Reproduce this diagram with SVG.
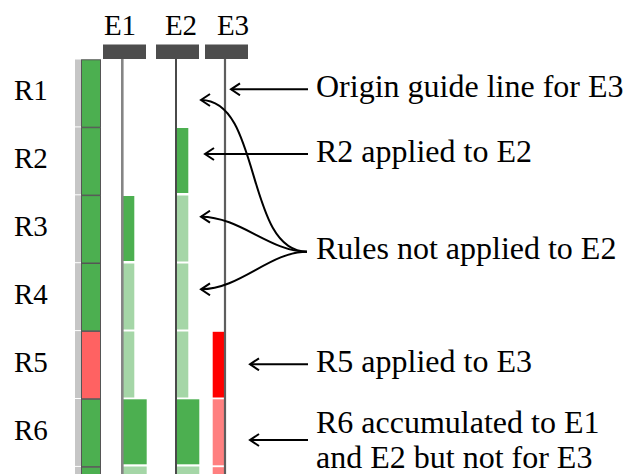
<svg xmlns="http://www.w3.org/2000/svg" width="634" height="474" viewBox="0 0 634 474">
<style>
.hdr{font-size:29px;text-anchor:middle}
.row{font-size:29px}
.lbl{font-size:32px}
.bar{fill:#4d4d4d}
.g{fill:#4caf50}
.lg{fill:#a5d6a7}
.r{fill:#ff0000}
.lr{fill:#ff8080}
.cg{fill:#4caf50;stroke:#555;stroke-width:1}
.cr{fill:#ff6262;stroke:#555;stroke-width:1}
.strip{fill:#c6c6c6}
.arr{fill:none;stroke:#000;stroke-width:2;marker-end:url(#ah)}
</style>
<defs>
<marker id="ah" markerUnits="userSpaceOnUse" markerWidth="14" markerHeight="14" viewBox="-11 -7 12 14" refX="0" refY="0" orient="auto">
<path d="M-9,-6 L0,0 L-9,6" fill="none" stroke="#000" stroke-width="2"/>
</marker>
</defs>
<rect width="634" height="474" fill="#fff"/>

<g id="headers" font-family="Liberation Serif, DejaVu Serif, serif" fill="#000">
<text class="hdr" x="120" y="35" font-family="Liberation Serif, DejaVu Serif, serif">E1</text>
<text class="hdr" x="181" y="35" font-family="Liberation Serif, DejaVu Serif, serif">E2</text>
<text class="hdr" x="233" y="35" font-family="Liberation Serif, DejaVu Serif, serif">E3</text>
<rect class="bar" x="103" y="44.5" width="43" height="14.5"/>
<rect class="bar" x="156" y="44.5" width="43" height="14.5"/>
<rect class="bar" x="205" y="44.5" width="43" height="14.5"/>
</g>

<g id="row-labels" font-family="Liberation Serif, DejaVu Serif, serif" fill="#000">
<text class="row" x="14" y="100" font-family="Liberation Serif, DejaVu Serif, serif">R1</text>
<text class="row" x="14" y="168" font-family="Liberation Serif, DejaVu Serif, serif">R2</text>
<text class="row" x="14" y="236" font-family="Liberation Serif, DejaVu Serif, serif">R3</text>
<text class="row" x="14" y="304" font-family="Liberation Serif, DejaVu Serif, serif">R4</text>
<text class="row" x="14" y="372" font-family="Liberation Serif, DejaVu Serif, serif">R5</text>
<text class="row" x="14" y="440" font-family="Liberation Serif, DejaVu Serif, serif">R6</text>
</g>

<g id="rule-column">
<rect class="strip" x="75" y="59.5" width="6" height="66.9"/>
<rect class="strip" x="75" y="127.4" width="6" height="66.9"/>
<rect class="strip" x="75" y="195.3" width="6" height="66.9"/>
<rect class="strip" x="75" y="263.2" width="6" height="66.9"/>
<rect class="strip" x="75" y="331.1" width="6" height="66.9"/>
<rect class="strip" x="75" y="399" width="6" height="66.9"/>
<rect class="strip" x="75" y="466.9" width="6" height="10"/>
<rect class="cg" x="81.5" y="59.8" width="19" height="67.4"/>
<rect class="cg" x="81.5" y="127.7" width="19" height="67.4"/>
<rect class="cg" x="81.5" y="195.6" width="19" height="67.4"/>
<rect class="cg" x="81.5" y="263.5" width="19" height="67.4"/>
<rect class="cr" x="81.5" y="331.4" width="19" height="67.4"/>
<rect class="cg" x="81.5" y="399.3" width="19" height="67.4"/>
<rect class="cg" x="81.5" y="467.2" width="19" height="10"/>
</g>

<g id="E1">
<rect class="g" x="123" y="196" width="11.3" height="65"/>
<rect class="lg" x="123" y="263.5" width="11.3" height="66"/>
<rect class="lg" x="123" y="331.5" width="11.3" height="66"/>
<rect class="g" x="123" y="399.3" width="23.7" height="65"/>
<rect class="lg" x="123" y="466.5" width="23.7" height="10"/>
<line x1="122.3" y1="59" x2="122.3" y2="474" stroke="#858585" stroke-width="2.6"/>
</g>

<g id="E2">
<rect class="g" x="176" y="128" width="12.3" height="65"/>
<rect class="lg" x="176" y="195.5" width="12.3" height="66"/>
<rect class="lg" x="176" y="263.5" width="12.3" height="66"/>
<rect class="lg" x="176" y="331.5" width="12.3" height="66"/>
<rect class="g" x="176" y="399.3" width="23.3" height="65"/>
<rect class="lg" x="176" y="466.5" width="23.3" height="10"/>
<line x1="176" y1="59" x2="176" y2="474" stroke="#4a4a4a" stroke-width="2"/>
</g>

<g id="E3">
<rect class="r" x="212.7" y="331.8" width="12.3" height="65.7"/>
<rect class="lr" x="212.7" y="399.3" width="12.3" height="66"/>
<rect class="lr" x="212.7" y="467.2" width="12.3" height="10"/>
<line x1="225" y1="59" x2="225" y2="474" stroke="#5e5e5e" stroke-width="2.2"/>
</g>

<g id="connectors">
<path class="arr" d="M308,89.3 H231"/>
<path class="arr" d="M308,154 H205"/>
<path class="arr" d="M307,251.7 C245,251.7 262,100 201,100"/>
<path class="arr" d="M307,251.7 C270,251.7 240,216.7 201,216.7"/>
<path class="arr" d="M307,251.7 C270,251.7 240,289.3 201,289.3"/>
<path class="arr" d="M308,364.3 H250"/>
<path class="arr" d="M308,440 H250"/>
</g>

<g id="annotations" font-family="Liberation Serif, DejaVu Serif, serif" fill="#000">
<text class="lbl" x="316" y="97" font-family="Liberation Serif, DejaVu Serif, serif">Origin guide line for E3</text>
<text class="lbl" x="316" y="162" font-family="Liberation Serif, DejaVu Serif, serif">R2 applied to E2</text>
<text class="lbl" x="316" y="259" font-family="Liberation Serif, DejaVu Serif, serif">Rules not applied to E2</text>
<text class="lbl" x="316" y="372" font-family="Liberation Serif, DejaVu Serif, serif">R5 applied to E3</text>
<text class="lbl" x="316" y="433" font-family="Liberation Serif, DejaVu Serif, serif">R6 accumulated to E1</text>
<text class="lbl" x="316" y="468" font-family="Liberation Serif, DejaVu Serif, serif">and E2 but not for E3</text>
</g>
</svg>
